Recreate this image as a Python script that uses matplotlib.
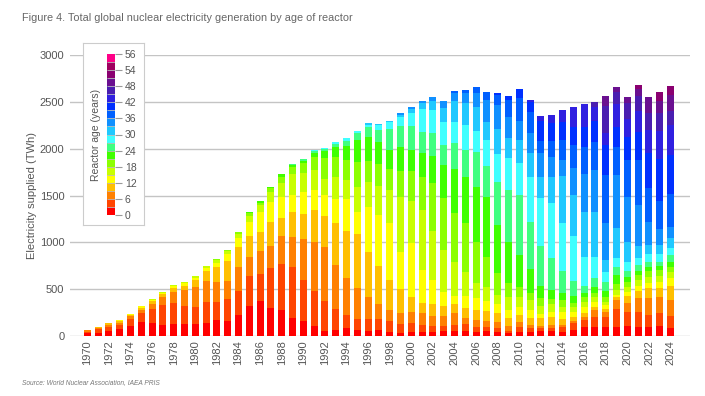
import matplotlib.pyplot as plt
import numpy as np
from matplotlib.colors import ListedColormap, BoundaryNorm
from matplotlib.cm import ScalarMappable

plt.rcParams['font.family'] = ['Liberation Sans', 'DejaVu Sans']

years = list(range(1970, 2025))

# TWh per reactor-age bin (0-2, 3-5, 6-8, ... years), one row per year
twh_by_age = [
    [30, 18, 12],
    [36, 36, 18, 7],
    [57, 39, 25, 14, 4],
    [78, 39, 21, 18, 11],
    [110, 75, 25, 14, 11],
    [150, 96, 36, 21, 14, 4],
    [135, 152, 58, 28, 14, 7],
    [117, 217, 85, 25, 14, 11],
    [132, 224, 114, 39, 25, 14],
    [132, 189, 171, 43, 28, 14],
    [132, 174, 217, 75, 25, 14],
    [144, 222, 226, 98, 36, 16, 7],
    [171, 192, 214, 160, 46, 25, 14],
    [160, 231, 196, 214, 75, 28, 14],
    [221, 260, 253, 221, 96, 39, 21],
    [324, 320, 199, 224, 153, 60, 28, 18],
    [370, 295, 242, 203, 214, 71, 28, 14],
    [299, 431, 231, 256, 217, 107, 36, 18],
    [278, 488, 306, 189, 228, 142, 71, 28],
    [196, 541, 324, 263, 182, 221, 82, 18, 7],
    [160, 438, 438, 268, 233, 206, 104, 26, 14],
    [110, 374, 520, 342, 214, 214, 135, 50, 21, 7],
    [57, 317, 577, 331, 224, 167, 224, 78, 21, 7],
    [64, 224, 466, 456, 253, 239, 214, 100, 36, 18],
    [85, 139, 395, 506, 335, 206, 214, 150, 57, 25],
    [64, 117, 331, 577, 231, 267, 274, 231, 71, 21],
    [57, 125, 238, 477, 477, 270, 224, 260, 100, 28, 14],
    [64, 121, 157, 406, 545, 310, 235, 228, 135, 50, 14],
    [46, 117, 114, 320, 605, 356, 224, 203, 221, 78, 14],
    [28, 100, 121, 249, 395, 594, 274, 260, 221, 93, 28, 14],
    [46, 96, 117, 160, 570, 456, 320, 221, 256, 135, 50, 14],
    [46, 71, 125, 107, 356, 641, 356, 256, 224, 238, 71, 21],
    [46, 61, 107, 128, 256, 523, 509, 292, 249, 242, 100, 43],
    [57, 50, 107, 107, 153, 445, 552, 356, 214, 249, 146, 71],
    [57, 61, 125, 100, 89, 363, 516, 470, 278, 231, 224, 85, 18],
    [57, 68, 71, 100, 132, 260, 523, 491, 285, 267, 238, 107, 28],
    [46, 53, 71, 107, 125, 160, 445, 580, 381, 221, 253, 157, 64],
    [57, 43, 64, 107, 107, 142, 327, 634, 338, 274, 196, 231, 89],
    [46, 36, 71, 89, 96, 100, 238, 509, 463, 295, 267, 256, 107, 25],
    [28, 28, 50, 82, 89, 142, 142, 445, 552, 338, 214, 231, 178, 43],
    [46, 53, 53, 71, 89, 107, 107, 338, 641, 338, 249, 206, 238, 96],
    [46, 36, 36, 71, 89, 107, 78, 249, 509, 481, 256, 214, 224, 107, 18],
    [57, 25, 28, 78, 46, 85, 82, 132, 427, 509, 231, 249, 135, 214, 50],
    [57, 25, 36, 82, 60, 82, 50, 100, 338, 587, 278, 214, 178, 192, 85],
    [46, 46, 25, 61, 82, 53, 71, 71, 242, 505, 505, 171, 214, 196, 125],
    [64, 71, 28, 36, 60, 53, 43, 71, 164, 477, 438, 285, 249, 196, 206],
    [93, 78, 36, 43, 64, 53, 46, 50, 71, 313, 481, 402, 292, 214, 242],
    [100, 100, 78, 36, 53, 46, 43, 71, 89, 231, 481, 440, 300, 230, 150, 54],
    [100, 107, 53, 25, 46, 36, 46, 71, 96, 107, 125, 399, 509, 320, 132, 285, 110],
    [100, 185, 100, 28, 25, 53, 64, 96, 82, 96, 327, 562, 302, 214, 242, 132, 53],
    [107, 153, 96, 71, 43, 50, 60, 53, 64, 96, 214, 481, 392, 249, 185, 178, 64],
    [93, 167, 142, 82, 50, 64, 53, 46, 60, 71, 132, 440, 481, 302, 214, 170, 70, 38],
    [93, 132, 178, 107, 60, 64, 64, 36, 60, 82, 96, 249, 356, 374, 249, 178, 171],
    [107, 142, 164, 96, 71, 60, 64, 43, 46, 82, 96, 167, 300, 453, 300, 190, 130, 90],
    [82, 135, 170, 150, 85, 60, 55, 55, 70, 80, 100, 125, 350, 420, 320, 142, 178, 96],
]

age_colors = ['#ff0000', '#ff4500', '#ff8000', '#ffbf00', '#ffff00',
              '#c8ff00', '#8cff00', '#40ff00', '#40ff80', '#40ffff',
              '#20c8ff', '#1090ff', '#0060ff', '#0030ff', '#3020e0',
              '#4a1eb0', '#6a1090', '#8a0070', '#a00060', '#ff0088']
age_ticks = [0, 6, 12, 18, 24, 30, 36, 42, 48, 54, 60]
age_tick_labels = ['0', '6', '12', '18', '24', '30', '36', '42', '48', '54', '56']

grey = '#555555'

fig = plt.figure(figsize=(7.05, 3.96), dpi=100)
ax = fig.add_axes([70 / 705, 1 - 336 / 396, 620 / 705, 281 / 396])

n_bins = len(age_colors)
table = np.zeros((len(years), n_bins))
for i, row in enumerate(twh_by_age):
    table[i, :len(row)] = row

bottom = np.zeros(len(years))
for k in range(n_bins):
    ax.bar(years, table[:, k], bottom=bottom, width=0.65,
           color=age_colors[k], linewidth=0, zorder=2)
    bottom += table[:, k]

ax.set_ylim(0, 3000)
ax.set_xlim(1968.4, 2025.8)
ax.set_yticks(range(0, 3001, 500))
ax.set_xticks(years[::2])
ax.tick_params(axis='x', rotation=90, length=0, labelsize=8, colors=grey, pad=3)
ax.tick_params(axis='y', length=0, labelsize=8, colors=grey, pad=4)
ax.grid(axis='y', color='#c4c4c4', linewidth=1, zorder=0)
for s in ax.spines.values():
    s.set_visible(False)
ax.set_ylabel('Electricity supplied (TWh)', fontsize=8, color=grey)
ax.yaxis.set_label_coords(-0.053, 0.5)

# legend box with the age colour scale
box = fig.add_axes([83 / 705, 1 - 225 / 396, 61 / 705, 182 / 396])
box.set_xticks([])
box.set_yticks([])
for s in box.spines.values():
    s.set_color('#cccccc')

cax = fig.add_axes([107 / 705, 1 - 215 / 396, 8 / 705, 161 / 396])
cmap = ListedColormap(age_colors)
norm = BoundaryNorm(list(range(0, 61, 3)), cmap.N)
cb = fig.colorbar(ScalarMappable(norm=norm, cmap=cmap), cax=cax)
cb.outline.set_visible(False)
cb.set_ticks(age_ticks)
cb.set_ticklabels(age_tick_labels)
cb.minorticks_off()
cax.tick_params(length=5, width=0.8, color='#999999', labelsize=7.5, labelcolor=grey, pad=2)
cax.hlines(range(3, 60, 3), 0, 1, color='#bbbbbb', linewidth=0.6, transform=cax.get_yaxis_transform())
cax.set_ylabel('Reactor age (years)', fontsize=7.5, color=grey, labelpad=4)
cax.yaxis.set_label_position('left')

fig.text(22 / 705, 1 - 18 / 396, 'Figure 4. Total global nuclear electricity generation by age of reactor',
         fontsize=7.8, color='#666666', va='center')
fig.text(22 / 705, 1 - 383 / 396, 'Source: World Nuclear Association, IAEA PRIS',
         fontsize=4.8, color='#777777', style='italic', va='center')

fig.savefig('out.png', dpi=100)
